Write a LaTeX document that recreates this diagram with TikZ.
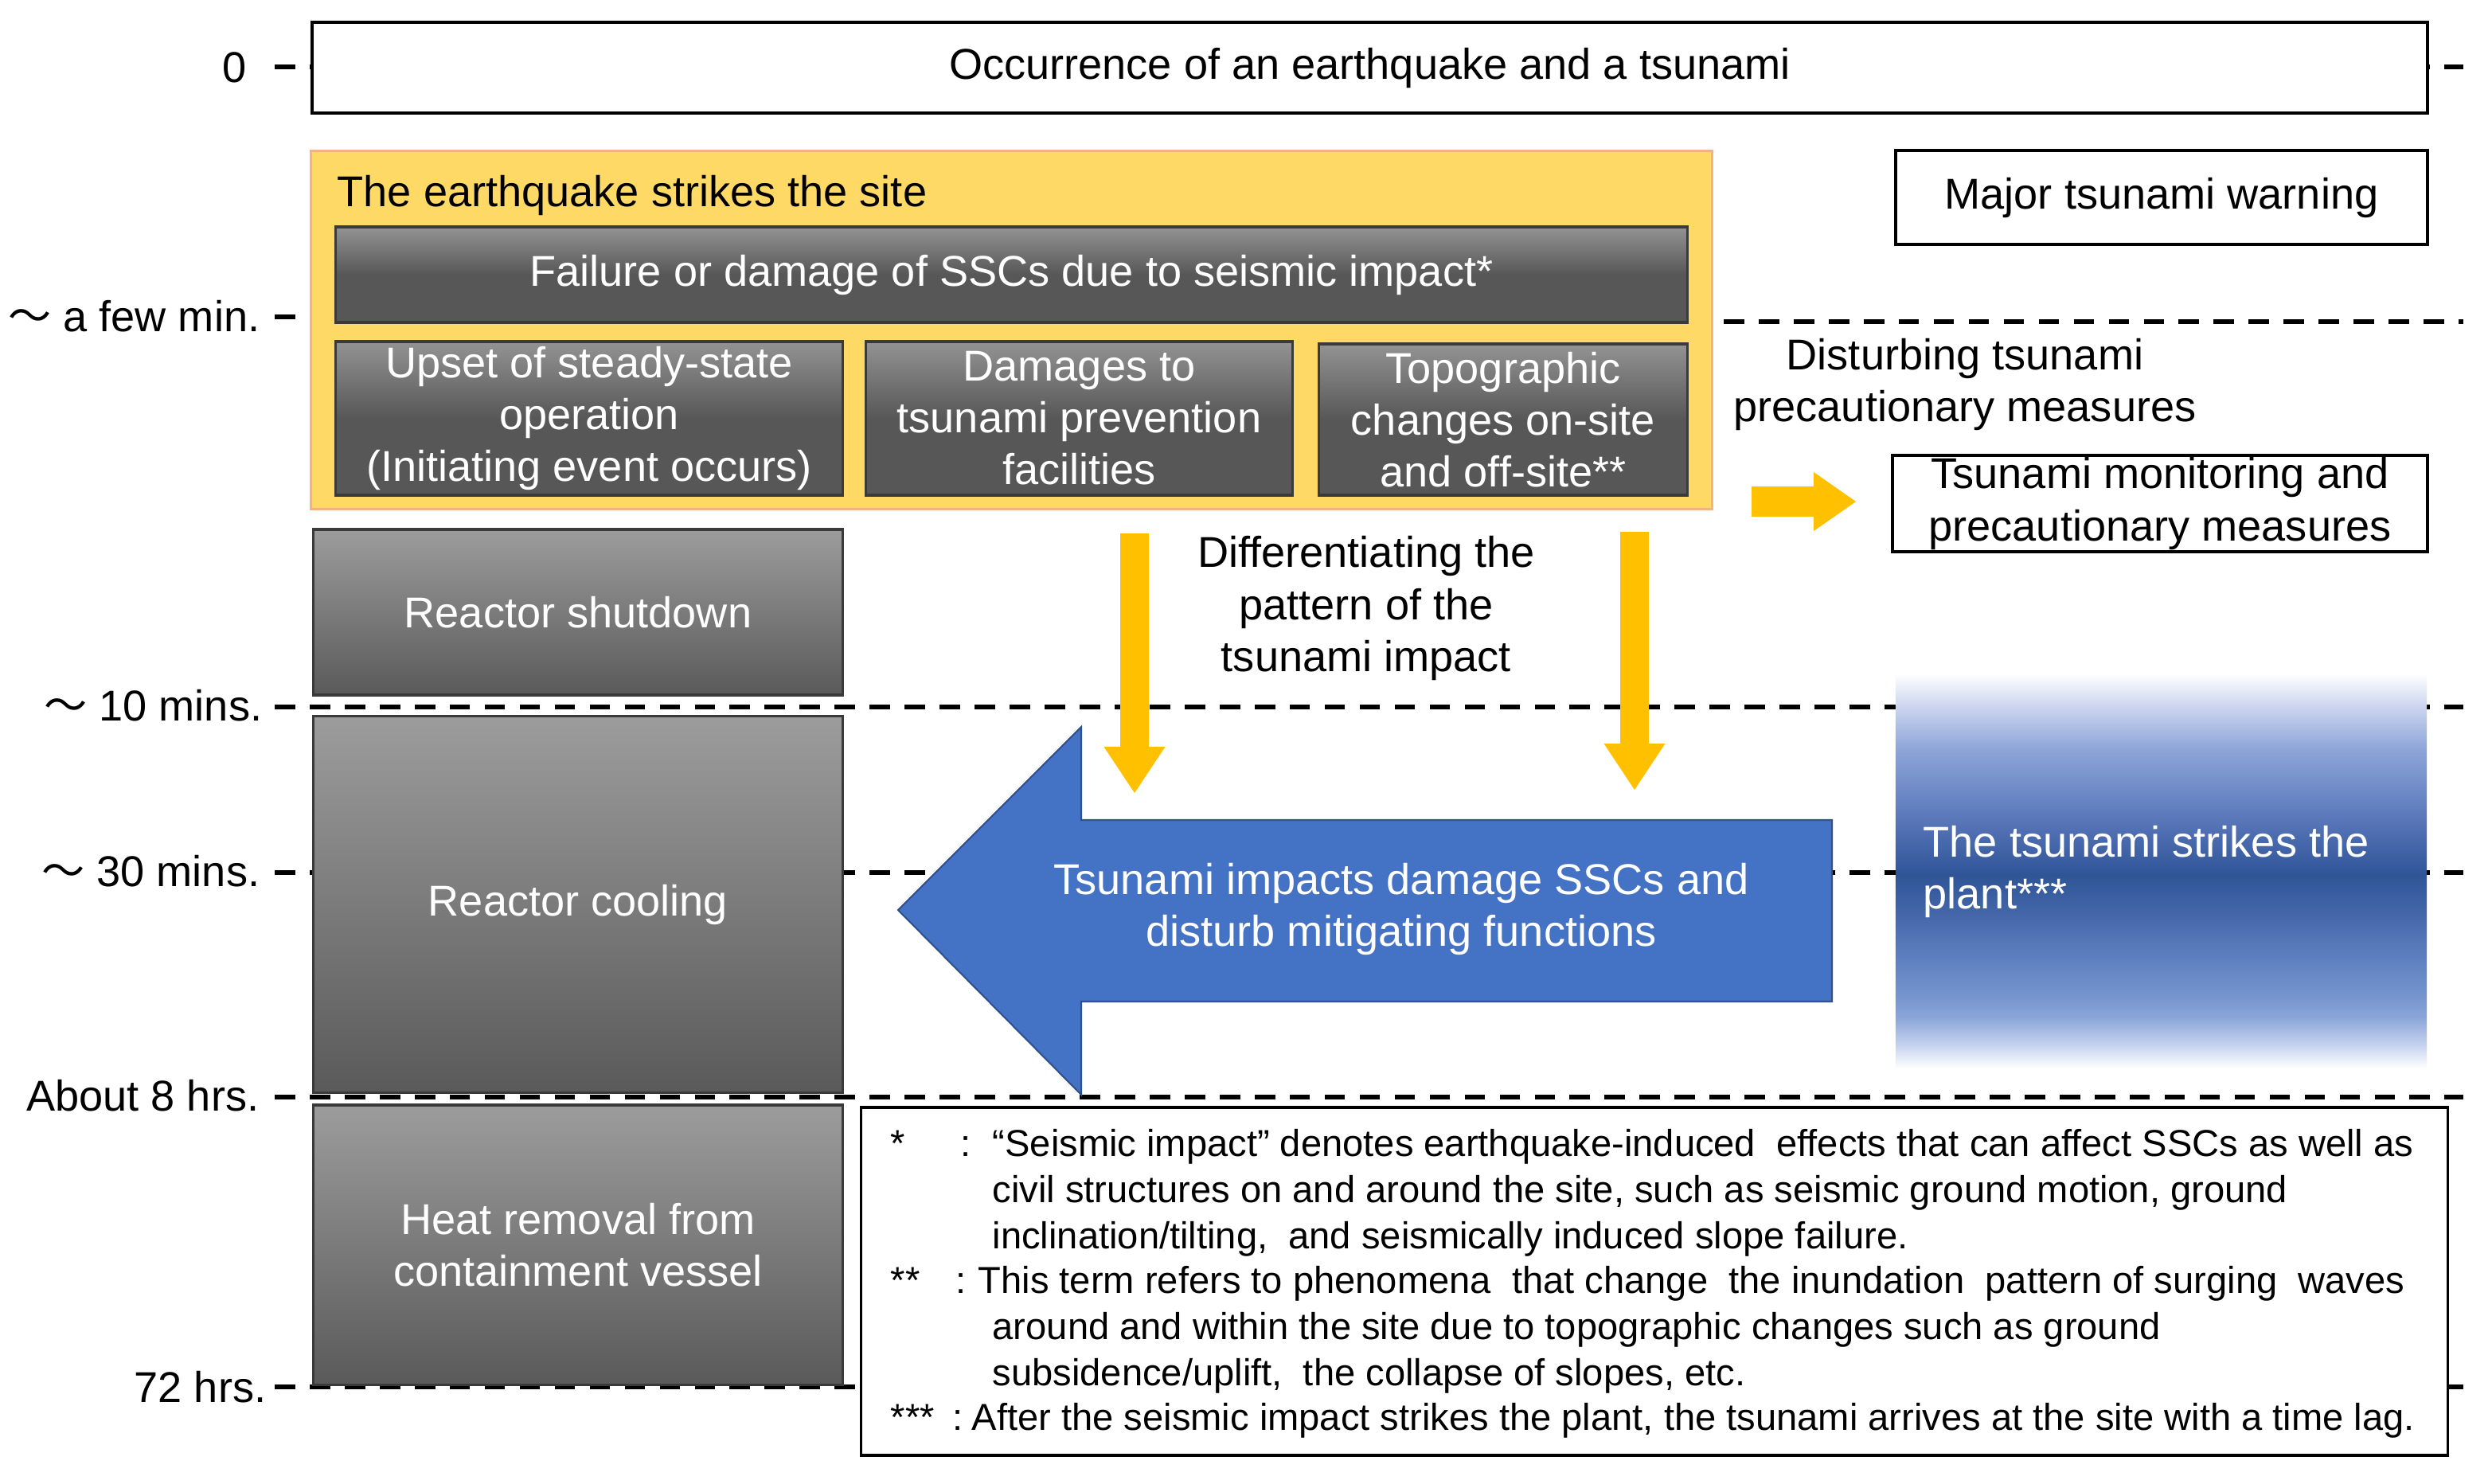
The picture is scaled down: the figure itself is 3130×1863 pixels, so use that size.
\documentclass[tikz,border=0pt]{standalone}
\usepackage{fontspec}
\setmainfont{Liberation Sans}
\newfontfamily\cjk{Noto Sans CJK JP}
\usetikzlibrary{arrows.meta}
\definecolor{ybox}{HTML}{FFD966}
\definecolor{yborder}{HTML}{F4B183}
\definecolor{yarrow}{HTML}{FFC000}
\definecolor{bblue}{HTML}{4472C4}
\definecolor{bblueD}{HTML}{2F528F}
\definecolor{barL}{HTML}{939393}
\definecolor{barD}{HTML}{575757}
\definecolor{barEdge}{HTML}{3A3A3A}
\definecolor{rL}{HTML}{9C9C9C}
\definecolor{rD}{HTML}{5A5A5A}
\definecolor{tsA}{HTML}{C5D2EE}
\definecolor{tsB}{HTML}{8AA5D8}
\definecolor{tsC}{HTML}{7393CD}
\definecolor{tsD}{HTML}{5A7BBC}
\definecolor{tsE}{HTML}{4063A6}
\definecolor{tsF}{HTML}{2F5597}
\definecolor{tsG}{HTML}{4D6CB0}
\definecolor{tsH}{HTML}{6A86C4}
\definecolor{tsI}{HTML}{8EA6D8}
\definecolor{tsJ}{HTML}{C8D3EE}
\pgfdeclareverticalshading{darkbar}{100bp}{color(0bp)=(barD); color(50bp)=(barD); color(75bp)=(barL); color(100bp)=(barL)}
\pgfdeclareverticalshading{tsunamishade}{100bp}{color(0bp)=(white); color(25bp)=(white); color(28bp)=(tsA); color(31.5bp)=(tsB); color(34.5bp)=(tsC); color(40bp)=(tsD); color(45.5bp)=(tsE); color(49.5bp)=(tsF); color(54.5bp)=(tsG); color(59.5bp)=(tsH); color(65.5bp)=(tsI); color(70.5bp)=(tsJ); color(75bp)=(white); color(100bp)=(white)}
\newcommand\mainsz{\fontsize{15.4pt}{18.5pt}\selectfont}
\newcommand\notesz{\fontsize{13.4pt}{16.4pt}\selectfont}
\begin{document}
\begin{tikzpicture}[x=0.01cm,y=-0.01cm,
  timelbl/.style={anchor=base east, inner sep=0pt, font=\mainsz},
  tline/.style={line width=1.75pt, dash pattern=on 7.3pt off 5.2pt},
  plainbox/.style={draw=black, line width=1pt, fill=white, font=\mainsz, align=center, inner sep=0pt},
  barbox/.style={draw=barEdge, line width=0.9pt, shading=darkbar, text=white, font=\mainsz, align=center, inner sep=0pt},
  reactbox/.style={draw=barEdge, line width=0.9pt, top color=rL, bottom color=rD, text=white, font=\mainsz, align=center, inner sep=0pt},
  labeltxt/.style={font=\mainsz, align=center, inner sep=0pt},
  notetxt/.style={anchor=base west, font=\notesz, inner sep=0pt},
  yarrdown/.style={draw=yarrow, line width=10.2pt, -{Triangle[length=5.8mm,width=7.7mm,line width=0pt]}},
  yarrright/.style={draw=yarrow, line width=10.8pt, -{Triangle[length=5.3mm,width=7.4mm,line width=0pt]}}
]
\useasboundingbox (0,0) rectangle (3130,1863);
\fill[white] (0,0) rectangle (3130,1863);

% time labels
\node[timelbl] (t0) at (310,103) {0};
\node[timelbl] (t1) at (327,416) {{\cjk ～} a few min.};
\node[timelbl] (t2) at (330,905) {{\cjk ～} 10 mins.};
\node[timelbl] (t3) at (327,1113) {{\cjk ～} 30 mins.};
\node[timelbl] (t4) at (326,1395) {About 8 hrs.};
\node[timelbl] (t5) at (335,1761) {72 hrs.};

% dashed time lines
\draw[tline] (345,84) -- (3094,84);
\draw[tline] (345,398) -- (391,398);
\draw[tline] (2165,404) -- (3094,404);
\draw[tline] (345,888) -- (3094,888);
\draw[tline] (345,1096) -- (3094,1096);
\draw[tline] (345,1378) -- (3094,1378);
\draw[tline] (345,1742) -- (3094,1742);

% top event
\node[plainbox, minimum width=26.55cm, minimum height=1.14cm] (occ) at (1720.5,85) {Occurrence of an earthquake and a tsunami};

% earthquake block
\node[draw=yborder, line width=0.8pt, fill=ybox, minimum width=17.59cm, minimum height=4.49cm, inner sep=0pt] (quake) at (1270.5,414.5) {};
\node[anchor=base west, font=\mainsz, inner sep=0pt] (quaketitle) at (423,259) {The earthquake strikes the site};
\node[barbox, minimum width=16.97cm, minimum height=1.20cm] (fail) at (1270.5,345) {Failure or damage of SSCs due to seismic impact*};
\node[barbox, minimum width=6.36cm, minimum height=1.93cm] (upset) at (740,525.5) {Upset of steady-state\\operation\\(Initiating event occurs)};
\node[barbox, minimum width=5.35cm, minimum height=1.93cm] (dmg) at (1355.5,525.5) {Damages to\\tsunami prevention\\facilities};
\node[barbox, minimum width=4.62cm, minimum height=1.90cm] (topo) at (1888,527) {Topographic\\changes on-site\\and off-site**};

% right column
\node[plainbox, minimum width=6.68cm, minimum height=1.18cm] (warn) at (2715,248) {Major tsunami warning};
\node[labeltxt] (disturb) at (2468,483) {Disturbing tsunami\\precautionary measures};
\node[plainbox, minimum width=6.72cm, minimum height=1.21cm] (monitor) at (2713,632.5) {Tsunami monitoring and\\precautionary measures};
\coordinate (ra1) at (2200,630);
\coordinate (ra2) at (2331,630);
\draw[yarrright] (ra1) -- (ra2);

% reactor column
\node[reactbox, minimum width=6.64cm, minimum height=2.08cm] (shut) at (726,769) {Reactor shutdown};
\node[reactbox, minimum width=6.64cm, minimum height=4.72cm] (cool) at (726,1136) {Reactor cooling};
\node[reactbox, minimum width=6.64cm, minimum height=3.51cm] (heat) at (726,1563.5) {Heat removal from\\containment vessel};

% differentiating
\node[labeltxt] (diff) at (1716,764) {Differentiating the\\pattern of the\\tsunami impact};
\coordinate (da1s) at (1425,670);
\coordinate (da1e) at (1425,996);
\coordinate (da2s) at (2053,668);
\coordinate (da2e) at (2053,992);

% blue arrow
\filldraw[fill=bblue, draw=bblueD, line width=0.6pt] (1128,1143) -- (1358,913) -- (1358,1030) -- (2301,1030) -- (2301,1258) -- (1358,1258) -- (1358,1375) -- cycle;
\node[labeltxt, text=white] (impact) at (1760,1142) {Tsunami impacts damage SSCs and\\disturb mitigating functions};

\draw[yarrdown] (da1s) -- (da1e);
\draw[yarrdown] (da2s) -- (da2e);

% tsunami strikes
\node[shading=tsunamishade, minimum width=6.67cm, minimum height=4.96cm, inner sep=0pt] (strike) at (2714.5,1094) {};
\node[anchor=west, font=\mainsz, text=white, align=left, inner sep=0pt] (striketxt) at (2415,1095) {The tsunami strikes the\\plant***};

% notes
\node[plainbox, minimum width=19.92cm, minimum height=4.37cm] (notes) at (2078,1609.5) {};
\node[notetxt] (m1) at (1118,1452) {*};
\node[notetxt] (c1) at (1206,1452) {:};
\node[notetxt] (l1) at (1246,1452) {“Seismic impact” denotes earthquake-induced\ \ effects that can affect SSCs as well as};
\node[notetxt] (l2) at (1246,1510) {civil structures on and around the site, such as seismic ground motion, ground};
\node[notetxt] (l3) at (1246,1568) {inclination/tilting,\ \ and seismically induced slope failure.};
\node[notetxt] (m2) at (1118,1624) {**};
\node[notetxt] (c2) at (1200,1624) {:};
\node[notetxt] (l4) at (1228,1624) {This term refers to phenomena\ \ that change\ \ the inundation\ \ pattern of surging\ \ waves};
\node[notetxt] (l5) at (1246,1682) {around and within the site due to topographic changes such as ground};
\node[notetxt] (l6) at (1246,1740) {subsidence/uplift,\ \ the collapse of slopes, etc.};
\node[notetxt] (m3) at (1118,1796) {***};
\node[notetxt] (c3) at (1196,1796) {:};
\node[notetxt] (l7) at (1220,1796) {After the seismic impact strikes the plant, the tsunami arrives at the site with a time lag.};
\end{tikzpicture}
\end{document}
